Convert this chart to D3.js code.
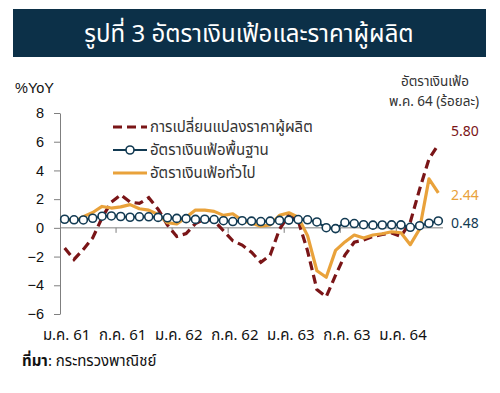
<!DOCTYPE html>
<html>
<head>
<meta charset="utf-8">
<script src="https://cdn.jsdelivr.net/npm/d3@7"></script>
<style>
  body { margin: 0; background: #fff; }
  svg { display: block; font-family: "Noto Sans Thai", "Tahoma", "Liberation Sans", "DejaVu Sans", sans-serif; }
</style>
</head>
<body>
<div id="chart"></div>
<script>
// months Jan 2018 (ม.ค. 61) .. May 2021 (พ.ค. 64)
var months = ["2018-01","2018-02","2018-03","2018-04","2018-05","2018-06","2018-07","2018-08","2018-09","2018-10","2018-11","2018-12",
              "2019-01","2019-02","2019-03","2019-04","2019-05","2019-06","2019-07","2019-08","2019-09","2019-10","2019-11","2019-12",
              "2020-01","2020-02","2020-03","2020-04","2020-05","2020-06","2020-07","2020-08","2020-09","2020-10","2020-11","2020-12",
              "2021-01","2021-02","2021-03","2021-04","2021-05"];

// producer price change (dashed)
var ppi = [-1.4, -2.2, -1.5, -0.7, 0.7, 1.8, 2.3, 1.8, 1.7, 2.1, 1.3, 0.2,
           -0.6, -0.4, 0.3, 0.6, 0.5, -0.2, -0.9, -1.2, -1.7, -2.4, -1.9, -0.1,
           0.9, 0.5, -1.6, -4.3, -4.8, -3.3, -1.9, -1.0, -0.85, -0.6, -0.45, -0.35,
           -0.6, 0.4, 2.7, 4.8, 5.80];

// core inflation (circles)
var core = [0.60, 0.56, 0.55, 0.67, 0.81, 0.83, 0.79, 0.74, 0.77, 0.77, 0.73, 0.70,
            0.66, 0.64, 0.59, 0.60, 0.58, 0.50, 0.44, 0.50, 0.47, 0.44, 0.47, 0.52,
            0.54, 0.58, 0.56, 0.41, 0.01, -0.05, 0.37, 0.30, 0.22, 0.19, 0.20, 0.21,
            0.21, 0.04, 0.15, 0.32, 0.48];

// headline inflation (orange)
var headline = [0.68, 0.42, 0.78, 1.07, 1.49, 1.38, 1.46, 1.62, 1.33, 1.23, 0.94, 0.36,
                0.27, 0.73, 1.24, 1.23, 1.15, 0.87, 0.98, 0.52, 0.32, 0.11, 0.21, 0.87,
                1.05, 0.74, -0.54, -2.99, -3.44, -1.57, -0.98, -0.50, -0.70, -0.50, -0.41, -0.27,
                -0.34, -1.17, -0.08, 3.41, 2.44];

var tickMonths = ["2018-01","2018-07","2019-01","2019-07","2020-01","2020-07","2021-01"];
var tickLabels = ["ม.ค. 61","ก.ค. 61","ม.ค. 62","ก.ค. 62","ม.ค. 63","ก.ค. 63","ม.ค. 64"];
var yTicks = [-6, -4, -2, 0, 2, 4, 6, 8];

var seriesNames = ["การเปลี่ยนแปลงราคาผู้ผลิต", "อัตราเงินเฟ้อพื้นฐาน", "อัตราเงินเฟ้อทั่วไป"];
var lastLabels = ["5.80", "0.48", "2.44"];

var colPPI = "#7a1517", colCore = "#123a52", colHead = "#e9a23b", textCol = "#333";

var W = 500, H = 393;
var svg = d3.select("#chart").append("svg")
    .attr("width", W)
    .attr("height", H);

// title banner
svg.append("rect")
    .attr("x", 13).attr("y", 9)
    .attr("width", 473).attr("height", 48)
    .attr("fill", "#0c3048");
svg.append("text")
    .attr("x", 249).attr("y", 42)
    .attr("text-anchor", "middle")
    .attr("fill", "#fff")
    .style("font-size", "24px")
    .text("รูปที่ 3 อัตราเงินเฟ้อและราคาผู้ผลิต");

// scales
var x = d3.scalePoint()
    .domain(months)
    .range([60, 443])
    .padding(0.5);
var step = x.step();

var y = d3.scaleLinear()
    .domain([-6, 8])
    .range([314, 113]);

// y axis
var yAxis = svg.append("g")
    .attr("transform", "translate(60,0)")
    .call(d3.axisLeft(y).tickValues(yTicks).tickSize(6).tickPadding(10).tickSizeOuter(0));
yAxis.select(".domain").attr("stroke", "#7f7f7f");
yAxis.selectAll(".tick line").attr("stroke", "#7f7f7f");
yAxis.selectAll("text")
    .attr("fill", "#111")
    .style("font-family", "'Liberation Sans', Arial, sans-serif")
    .style("font-size", "14.5px");

svg.append("text")
    .attr("x", 15).attr("y", 93)
    .attr("fill", "#111")
    .style("font-family", "'Liberation Sans', Arial, sans-serif")
    .style("font-size", "14.5px")
    .text("%YoY");

// x axis on the zero line, ticks between categories
svg.append("line")
    .attr("x1", 60).attr("x2", 443)
    .attr("y1", y(0)).attr("y2", y(0))
    .attr("stroke", "#7f7f7f");
svg.selectAll(".xtick")
    .data(tickMonths.slice(1))
    .enter().append("line")
    .attr("class", "xtick")
    .attr("x1", function (d) { return x(d) - step / 2; })
    .attr("x2", function (d) { return x(d) - step / 2; })
    .attr("y1", y(0)).attr("y2", y(0) + 5)
    .attr("stroke", "#7f7f7f");
svg.selectAll(".xlab")
    .data(tickMonths)
    .enter().append("text")
    .attr("class", "xlab")
    .attr("x", function (d) { return x(d) + 2; })
    .attr("y", 340)
    .attr("text-anchor", "middle")
    .attr("fill", "#111")
    .style("font-size", "15px")
    .text(function (d, i) { return tickLabels[i]; });

// lines
function lineOf(vals) {
    return d3.line()
        .x(function (d, i) { return x(months[i]); })
        .y(function (d) { return y(d); })(vals);
}

svg.append("path")
    .attr("d", lineOf(ppi))
    .attr("fill", "none")
    .attr("stroke", colPPI)
    .attr("stroke-width", 3.2)
    .attr("stroke-dasharray", "9,5");

svg.append("path")
    .attr("d", lineOf(headline))
    .attr("fill", "none")
    .attr("stroke", colHead)
    .attr("stroke-width", 3.2)
    .attr("stroke-linejoin", "round");

svg.append("path")
    .attr("d", lineOf(core))
    .attr("fill", "none")
    .attr("stroke", colCore)
    .attr("stroke-width", 2.2);

svg.append("g").selectAll("circle")
    .data(core)
    .enter().append("circle")
    .attr("cx", function (d, i) { return x(months[i]); })
    .attr("cy", function (d) { return y(d); })
    .attr("r", 4)
    .attr("fill", "#fff")
    .attr("stroke", colCore)
    .attr("stroke-width", 1.6);

// legend
var leg = svg.append("g");
var legY = [127, 150, 173];
leg.append("line").attr("x1", 113).attr("x2", 147).attr("y1", legY[0]).attr("y2", legY[0])
    .attr("stroke", colPPI).attr("stroke-width", 3.2).attr("stroke-dasharray", "9,5");
leg.append("line").attr("x1", 113).attr("x2", 147).attr("y1", legY[1]).attr("y2", legY[1])
    .attr("stroke", colCore).attr("stroke-width", 2.2);
leg.append("circle").attr("cx", 130).attr("cy", legY[1]).attr("r", 4)
    .attr("fill", "#fff").attr("stroke", colCore).attr("stroke-width", 1.6);
leg.append("line").attr("x1", 113).attr("x2", 147).attr("y1", legY[2]).attr("y2", legY[2])
    .attr("stroke", colHead).attr("stroke-width", 3.2);
leg.selectAll("text")
    .data(seriesNames)
    .enter().append("text")
    .attr("x", 150)
    .attr("y", function (d, i) { return legY[i] + 5; })
    .attr("fill", textCol)
    .style("font-size", "15px")
    .text(function (d) { return d; });

// right-hand note and end values
svg.append("text")
    .attr("x", 435).attr("y", 86)
    .attr("text-anchor", "middle")
    .attr("fill", textCol)
    .style("font-size", "13.5px")
    .text("อัตราเงินเฟ้อ");
svg.append("text")
    .attr("x", 434).attr("y", 106)
    .attr("text-anchor", "middle")
    .attr("fill", textCol)
    .style("font-size", "13.5px")
    .text("พ.ค. 64 (ร้อยละ)");

var endVals = [ppi[40], core[40], headline[40]];
var endCols = [colPPI, colCore, colHead];
var endY = [131, 223, 195];
svg.selectAll(".endlab")
    .data(endVals)
    .enter().append("text")
    .attr("class", "endlab")
    .attr("x", 451)
    .attr("y", function (d, i) { return endY[i] + 5; })
    .attr("fill", function (d, i) { return endCols[i]; })
    .style("font-size", "14px")
    .text(function (d, i) { return lastLabels[i]; });

// source
var src = svg.append("text")
    .attr("x", 22).attr("y", 366)
    .attr("fill", "#111")
    .style("font-size", "15px");
src.append("tspan").style("font-weight", "bold").text("ที่มา");
src.append("tspan").text(": กระทรวงพาณิชย์");
</script>
</body>
</html>
